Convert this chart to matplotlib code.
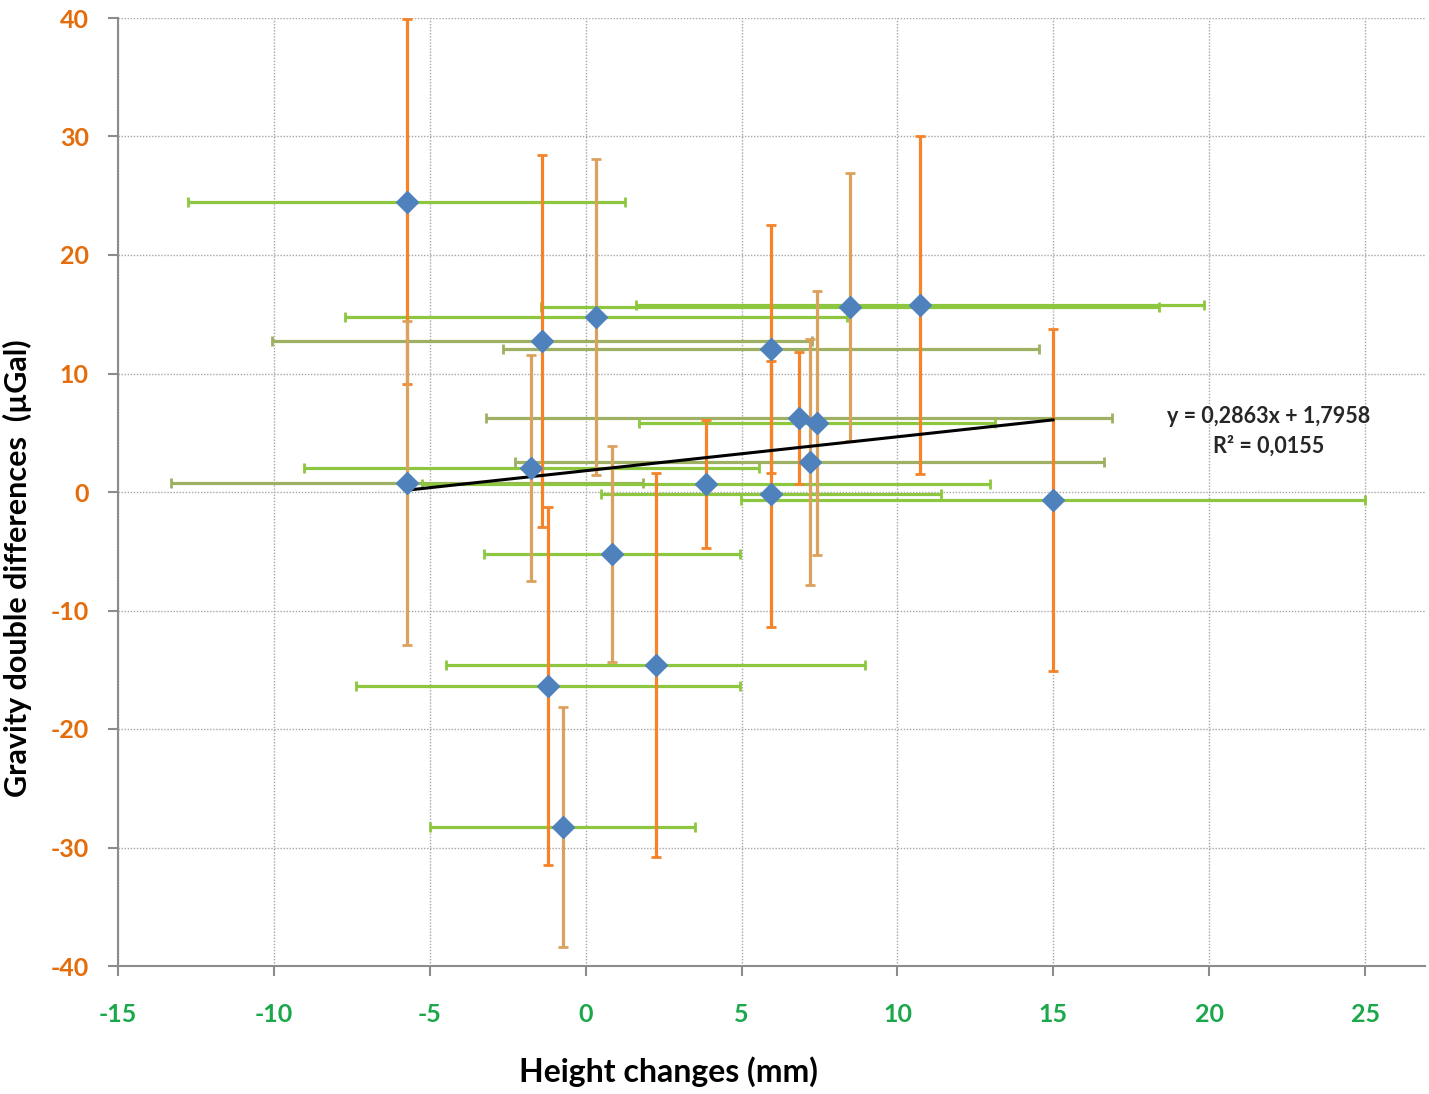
import matplotlib
matplotlib.use("Agg")
import matplotlib.pyplot as plt
import numpy as np

# ---- data ----
height_mm = [-5.74, -5.74, -1.40, 0.33, -1.75, 5.94, 8.48, 10.72, 6.84,
             7.42, 7.19, 3.86, 5.94, 14.99, 0.84, 2.25, -1.21, -0.73]
gravity_ugal = [24.5, 0.76, 12.74, 14.77, 2.03, 12.07, 15.61, 15.78, 6.24,
                5.82, 2.53, 0.68, -0.17, -0.68, -5.23, -14.6, -16.37, -28.27]
height_err = [7.0, 7.57, 8.65, 8.05, 7.3, 8.6, 9.9, 9.1, 10.05,
              5.7, 9.45, 9.1, 5.45, 10.0, 4.1, 6.72, 6.17, 4.25]
gravity_err = [15.4, 13.7, 15.7, 13.35, 9.5, 10.5, 11.3, 14.3, 5.6,
               11.1, 10.4, 5.4, 11.2, 14.4, 9.1, 16.2, 15.1, 10.1]

trend_slope = 0.2863
trend_intercept = 1.7958
trend_r2 = 0.0155

x_ticks = [-15, -10, -5, 0, 5, 10, 15, 20, 25]
y_ticks = [-40, -30, -20, -10, 0, 10, 20, 30, 40]

# styles (per point shade of the error bars)
v_shade = ['o', 't', 'o', 't', 't', 'o', 't', 'o', 'o',
           't', 't', 'o', 'o', 'o', 't', 'o', 'o', 't']
h_shade = ['g', 'l', 'l', 'g', 'g', 'l', 'g', 'g', 'l',
           'g', 'l', 'g', 'g', 'g', 'g', 'g', 'g', 'g']
v_colors = {'o': '#F5832A', 't': '#DDA15E'}
h_colors = {'g': '#8DC63F', 'l': '#9DB063'}

plt.rcParams['font.family'] = ['Lato', 'DejaVu Sans']
plt.rcParams['axes.unicode_minus'] = False

fig = plt.figure(figsize=(14.29, 10.94), dpi=100)
ax = fig.add_axes([118 / 1429, 128 / 1094, 1307 / 1429, 948 / 1094])

ax.set_xlim(-15, 26.92)
ax.set_ylim(-40, 40)

# grid
ax.set_xticks(x_ticks)
ax.set_yticks(y_ticks)
ax.grid(True, which='major', linestyle=(0, (1, 1.2)), color='#A6A6A6', linewidth=1.0)
ax.set_axisbelow(True)

# horizontal error bars (green)
for i in range(len(height_mm)):
    ax.errorbar(height_mm[i], gravity_ugal[i], xerr=height_err[i], fmt='none',
                ecolor=h_colors[h_shade[i]], elinewidth=2.3, capsize=3.5,
                capthick=2.0, zorder=2)
# vertical error bars (orange)
for i in range(len(height_mm)):
    ax.errorbar(height_mm[i], gravity_ugal[i], yerr=gravity_err[i], fmt='none',
                ecolor=v_colors[v_shade[i]], elinewidth=2.3, capsize=3.5,
                capthick=2.0, zorder=3, clip_on=False)

# trend line
xs = np.array([min(height_mm), max(height_mm)])
ax.plot(xs, trend_slope * xs + trend_intercept, color='black', linewidth=2.2, zorder=4)

# markers
ax.plot(height_mm, gravity_ugal, linestyle='none', marker='D', markersize=11,
        markerfacecolor='#4F81BD', markeredgecolor='#4F81BD', zorder=5)

# equation
eq = f"y = {trend_slope:.4f}x + {trend_intercept:.4f}".replace('.', ',')
r2 = f"R² = {trend_r2:.4f}".replace('.', ',')
ax.text(21.9, 6.4, eq, ha='center', va='center', fontsize=15.5, fontweight='bold',
        color='#262626', zorder=6)
ax.text(21.9, 3.85, r2, ha='center', va='center', fontsize=15.5, fontweight='bold',
        color='#262626', zorder=6)

# spines
for s in ['top', 'right']:
    ax.spines[s].set_visible(False)
for s in ['left', 'bottom']:
    ax.spines[s].set_color('#8C8C8C')
    ax.spines[s].set_linewidth(1.5)

ax.tick_params(axis='both', direction='out', length=7, width=1.5, color='#8C8C8C')
ax.tick_params(axis='x', pad=20, labelsize=18, labelcolor='#1AA84B')
ax.tick_params(axis='y', pad=14, labelsize=18, labelcolor='#E46C0A')
for lab in ax.get_xticklabels() + ax.get_yticklabels():
    lab.set_fontweight('bold')

ax.set_xlabel('Height changes (mm)', fontsize=23, fontweight='bold', color='black')
ax.set_ylabel('Gravity double differences  (µGal)', fontsize=22, fontweight='bold',
              color='black')
ax.xaxis.set_label_coords(0.421, -0.095)
ax.yaxis.set_label_coords(-0.066, 0.42)

fig.savefig('out.png', dpi=100)
